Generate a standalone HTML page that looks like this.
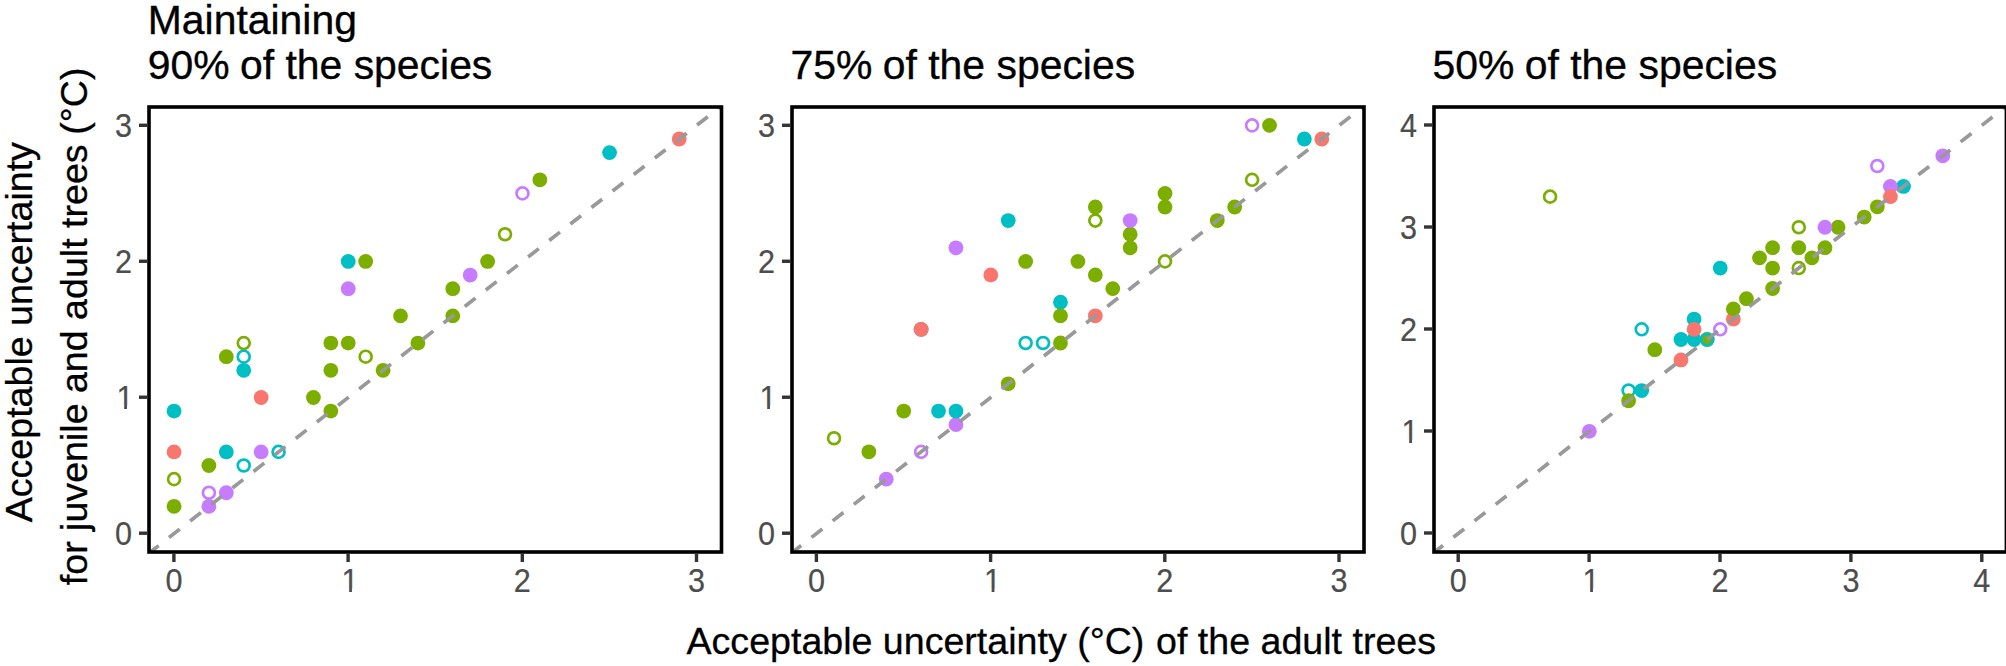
<!DOCTYPE html>
<html lang="en">
<head>
<meta charset="utf-8">
<title>Acceptable uncertainty</title>
<style>
html,body{margin:0;padding:0;background:#fff;}
svg{display:block;}
text{font-family:"Liberation Sans",sans-serif;}
.tk{font-size:30.6px;fill:#4D4D4D;stroke:#4D4D4D;stroke-width:0.2px;}
.ax{font-size:37.6px;fill:#000;stroke:#000;stroke-width:0.3px;}
.tt{font-size:40.9px;fill:#000;stroke:#000;stroke-width:0.35px;}
</style>
</head>
<body>
<svg width="2006" height="666" viewBox="0 0 2006 666">
<rect x="0" y="0" width="2006" height="666" fill="#ffffff"/>
<g id="panel1">
<clipPath id="clip1"><rect x="149.00" y="107.00" width="572.50" height="445.00"/></clipPath>
<g clip-path="url(#clip1)">
<circle cx="174.05" cy="506.34" r="7.4" fill="#7CAE00"/>
<circle cx="174.05" cy="479.13" r="5.95" fill="none" stroke="#7CAE00" stroke-width="2.7"/>
<circle cx="174.05" cy="451.92" r="7.4" fill="#F8766D"/>
<circle cx="174.05" cy="411.10" r="7.4" fill="#00BFC4"/>
<circle cx="208.89" cy="506.34" r="7.4" fill="#C77CFF"/>
<circle cx="208.89" cy="492.73" r="5.95" fill="none" stroke="#C77CFF" stroke-width="2.7"/>
<circle cx="226.31" cy="492.73" r="7.4" fill="#C77CFF"/>
<circle cx="208.89" cy="465.52" r="7.4" fill="#7CAE00"/>
<circle cx="226.31" cy="451.92" r="7.4" fill="#00BFC4"/>
<circle cx="243.73" cy="465.52" r="5.95" fill="none" stroke="#00BFC4" stroke-width="2.7"/>
<circle cx="261.15" cy="451.92" r="7.4" fill="#C77CFF"/>
<circle cx="278.57" cy="451.92" r="5.95" fill="none" stroke="#00BFC4" stroke-width="2.7"/>
<circle cx="261.15" cy="397.50" r="7.4" fill="#F8766D"/>
<circle cx="243.73" cy="370.29" r="7.4" fill="#00BFC4"/>
<circle cx="243.73" cy="343.08" r="5.95" fill="none" stroke="#7CAE00" stroke-width="2.7"/>
<circle cx="243.73" cy="356.68" r="5.95" fill="none" stroke="#00BFC4" stroke-width="2.7"/>
<circle cx="226.31" cy="356.68" r="7.4" fill="#7CAE00"/>
<circle cx="313.41" cy="397.50" r="7.4" fill="#7CAE00"/>
<circle cx="330.83" cy="411.10" r="7.4" fill="#7CAE00"/>
<circle cx="330.83" cy="370.29" r="7.4" fill="#7CAE00"/>
<circle cx="330.83" cy="343.08" r="7.4" fill="#7CAE00"/>
<circle cx="348.25" cy="343.08" r="7.4" fill="#7CAE00"/>
<circle cx="365.67" cy="356.68" r="5.95" fill="none" stroke="#7CAE00" stroke-width="2.7"/>
<circle cx="383.09" cy="370.29" r="7.4" fill="#7CAE00"/>
<circle cx="417.93" cy="343.08" r="7.4" fill="#7CAE00"/>
<circle cx="400.51" cy="315.87" r="7.4" fill="#7CAE00"/>
<circle cx="452.77" cy="315.87" r="7.4" fill="#7CAE00"/>
<circle cx="452.77" cy="288.66" r="7.4" fill="#7CAE00"/>
<circle cx="470.19" cy="275.05" r="7.4" fill="#C77CFF"/>
<circle cx="487.61" cy="261.45" r="7.4" fill="#7CAE00"/>
<circle cx="505.03" cy="234.24" r="5.95" fill="none" stroke="#7CAE00" stroke-width="2.7"/>
<circle cx="522.45" cy="193.42" r="5.95" fill="none" stroke="#C77CFF" stroke-width="2.7"/>
<circle cx="539.87" cy="179.82" r="7.4" fill="#7CAE00"/>
<circle cx="609.55" cy="152.61" r="7.4" fill="#00BFC4"/>
<circle cx="679.23" cy="139.00" r="7.4" fill="#F8766D"/>
<circle cx="348.25" cy="261.45" r="7.4" fill="#00BFC4"/>
<circle cx="365.67" cy="261.45" r="7.4" fill="#7CAE00"/>
<circle cx="348.25" cy="288.66" r="7.4" fill="#C77CFF"/>
<line x1="147.92" y1="553.96" x2="722.78" y2="104.99" stroke="#999999" stroke-width="3.7" stroke-dasharray="13.6 13.2" stroke-dashoffset="0"/>
</g>
<rect x="149.00" y="107.00" width="572.50" height="445.00" fill="none" stroke="#000" stroke-width="3.6"/>
<line x1="139.00" y1="533.20" x2="147.20" y2="533.20" stroke="#333333" stroke-width="3.4"/>
<line x1="173.90" y1="553.80" x2="173.90" y2="562.00" stroke="#333333" stroke-width="3.4"/>
<line x1="139.00" y1="397.23" x2="147.20" y2="397.23" stroke="#333333" stroke-width="3.4"/>
<line x1="348.10" y1="553.80" x2="348.10" y2="562.00" stroke="#333333" stroke-width="3.4"/>
<line x1="139.00" y1="261.26" x2="147.20" y2="261.26" stroke="#333333" stroke-width="3.4"/>
<line x1="522.30" y1="553.80" x2="522.30" y2="562.00" stroke="#333333" stroke-width="3.4"/>
<line x1="139.00" y1="125.29" x2="147.20" y2="125.29" stroke="#333333" stroke-width="3.4"/>
<line x1="696.50" y1="553.80" x2="696.50" y2="562.00" stroke="#333333" stroke-width="3.4"/>
<text class="tk" text-anchor="end" transform="translate(132.05,545.30) scale(1,1.07)">0</text>
<text class="tk" text-anchor="end" transform="translate(133.55,409.33) scale(1,1.07)">1</text>
<rect x="117.66" y="405.88" width="6.51" height="3.95" fill="#fff"/><rect x="126.98" y="405.88" width="6.27" height="3.95" fill="#fff"/>
<text class="tk" text-anchor="end" transform="translate(132.05,273.36) scale(1,1.07)">2</text>
<text class="tk" text-anchor="end" transform="translate(132.05,137.39) scale(1,1.07)">3</text>
<text class="tk" text-anchor="middle" transform="translate(173.90,592.30) scale(1,1.07)">0</text>
<text class="tk" text-anchor="middle" transform="translate(350.00,592.30) scale(1,1.07)">1</text>
<rect x="342.62" y="588.85" width="6.51" height="3.95" fill="#fff"/><rect x="351.94" y="588.85" width="6.27" height="3.95" fill="#fff"/>
<text class="tk" text-anchor="middle" transform="translate(522.30,592.30) scale(1,1.07)">2</text>
<text class="tk" text-anchor="middle" transform="translate(696.50,592.30) scale(1,1.07)">3</text>
</g>
<g id="panel2">
<clipPath id="clip2"><rect x="792.00" y="107.00" width="572.00" height="445.00"/></clipPath>
<g clip-path="url(#clip2)">
<circle cx="834.02" cy="438.24" r="5.95" fill="none" stroke="#7CAE00" stroke-width="2.7"/>
<circle cx="868.86" cy="451.84" r="7.4" fill="#7CAE00"/>
<circle cx="886.28" cy="479.04" r="7.4" fill="#C77CFF"/>
<circle cx="921.12" cy="451.84" r="5.95" fill="none" stroke="#C77CFF" stroke-width="2.7"/>
<circle cx="903.70" cy="411.03" r="7.4" fill="#7CAE00"/>
<circle cx="938.54" cy="411.03" r="7.4" fill="#00BFC4"/>
<circle cx="955.96" cy="424.63" r="7.4" fill="#C77CFF"/>
<circle cx="955.96" cy="411.03" r="7.4" fill="#00BFC4"/>
<circle cx="921.12" cy="329.42" r="7.4" fill="#00BFC4"/>
<circle cx="921.12" cy="329.42" r="7.4" fill="#F8766D"/>
<circle cx="1008.22" cy="383.83" r="7.4" fill="#7CAE00"/>
<circle cx="1025.64" cy="343.02" r="5.95" fill="none" stroke="#00BFC4" stroke-width="2.7"/>
<circle cx="1043.06" cy="343.02" r="5.95" fill="none" stroke="#00BFC4" stroke-width="2.7"/>
<circle cx="1060.48" cy="343.02" r="7.4" fill="#7CAE00"/>
<circle cx="1060.48" cy="302.22" r="7.4" fill="#00BFC4"/>
<circle cx="1060.48" cy="315.82" r="7.4" fill="#7CAE00"/>
<circle cx="990.80" cy="275.01" r="7.4" fill="#F8766D"/>
<circle cx="1025.64" cy="261.41" r="7.4" fill="#7CAE00"/>
<circle cx="1077.90" cy="261.41" r="7.4" fill="#7CAE00"/>
<circle cx="955.96" cy="247.81" r="7.4" fill="#C77CFF"/>
<circle cx="1095.32" cy="275.01" r="7.4" fill="#7CAE00"/>
<circle cx="1095.32" cy="315.82" r="7.4" fill="#F8766D"/>
<circle cx="1008.22" cy="220.60" r="7.4" fill="#00BFC4"/>
<circle cx="1112.74" cy="288.61" r="7.4" fill="#7CAE00"/>
<circle cx="1095.32" cy="207.00" r="7.4" fill="#7CAE00"/>
<circle cx="1095.32" cy="220.60" r="5.95" fill="none" stroke="#7CAE00" stroke-width="2.7"/>
<circle cx="1130.16" cy="234.21" r="7.4" fill="#7CAE00"/>
<circle cx="1130.16" cy="247.81" r="7.4" fill="#7CAE00"/>
<circle cx="1130.16" cy="220.60" r="7.4" fill="#C77CFF"/>
<circle cx="1165.00" cy="193.40" r="7.4" fill="#7CAE00"/>
<circle cx="1165.00" cy="207.00" r="7.4" fill="#7CAE00"/>
<circle cx="1165.00" cy="261.41" r="5.95" fill="none" stroke="#7CAE00" stroke-width="2.7"/>
<circle cx="1217.26" cy="220.60" r="7.4" fill="#7CAE00"/>
<circle cx="1234.68" cy="207.00" r="7.4" fill="#7CAE00"/>
<circle cx="1252.10" cy="179.80" r="5.95" fill="none" stroke="#7CAE00" stroke-width="2.7"/>
<circle cx="1252.10" cy="125.39" r="5.95" fill="none" stroke="#C77CFF" stroke-width="2.7"/>
<circle cx="1269.52" cy="125.39" r="7.4" fill="#7CAE00"/>
<circle cx="1304.36" cy="138.99" r="7.4" fill="#00BFC4"/>
<circle cx="1321.78" cy="138.99" r="7.4" fill="#F8766D"/>
<line x1="790.47" y1="553.85" x2="1365.33" y2="104.99" stroke="#999999" stroke-width="3.7" stroke-dasharray="13.6 13.2" stroke-dashoffset="0"/>
</g>
<rect x="792.00" y="107.00" width="572.00" height="445.00" fill="none" stroke="#000" stroke-width="3.6"/>
<line x1="782.00" y1="533.20" x2="790.20" y2="533.20" stroke="#333333" stroke-width="3.4"/>
<line x1="816.40" y1="553.80" x2="816.40" y2="562.00" stroke="#333333" stroke-width="3.4"/>
<line x1="782.00" y1="397.23" x2="790.20" y2="397.23" stroke="#333333" stroke-width="3.4"/>
<line x1="990.60" y1="553.80" x2="990.60" y2="562.00" stroke="#333333" stroke-width="3.4"/>
<line x1="782.00" y1="261.26" x2="790.20" y2="261.26" stroke="#333333" stroke-width="3.4"/>
<line x1="1164.80" y1="553.80" x2="1164.80" y2="562.00" stroke="#333333" stroke-width="3.4"/>
<line x1="782.00" y1="125.29" x2="790.20" y2="125.29" stroke="#333333" stroke-width="3.4"/>
<line x1="1339.00" y1="553.80" x2="1339.00" y2="562.00" stroke="#333333" stroke-width="3.4"/>
<text class="tk" text-anchor="end" transform="translate(775.05,545.30) scale(1,1.07)">0</text>
<text class="tk" text-anchor="end" transform="translate(776.55,409.33) scale(1,1.07)">1</text>
<rect x="760.66" y="405.88" width="6.51" height="3.95" fill="#fff"/><rect x="769.98" y="405.88" width="6.27" height="3.95" fill="#fff"/>
<text class="tk" text-anchor="end" transform="translate(775.05,273.36) scale(1,1.07)">2</text>
<text class="tk" text-anchor="end" transform="translate(775.05,137.39) scale(1,1.07)">3</text>
<text class="tk" text-anchor="middle" transform="translate(816.40,592.30) scale(1,1.07)">0</text>
<text class="tk" text-anchor="middle" transform="translate(992.50,592.30) scale(1,1.07)">1</text>
<rect x="985.12" y="588.85" width="6.51" height="3.95" fill="#fff"/><rect x="994.44" y="588.85" width="6.27" height="3.95" fill="#fff"/>
<text class="tk" text-anchor="middle" transform="translate(1164.80,592.30) scale(1,1.07)">2</text>
<text class="tk" text-anchor="middle" transform="translate(1339.00,592.30) scale(1,1.07)">3</text>
</g>
<g id="panel3">
<clipPath id="clip3"><rect x="1434.00" y="107.00" width="572.40" height="445.00"/></clipPath>
<g clip-path="url(#clip3)">
<circle cx="1550.08" cy="196.63" r="5.95" fill="none" stroke="#7CAE00" stroke-width="2.7"/>
<circle cx="1589.35" cy="431.35" r="7.4" fill="#C77CFF"/>
<circle cx="1628.62" cy="390.53" r="5.95" fill="none" stroke="#00BFC4" stroke-width="2.7"/>
<circle cx="1641.71" cy="390.53" r="7.4" fill="#00BFC4"/>
<circle cx="1628.62" cy="400.74" r="7.4" fill="#7CAE00"/>
<circle cx="1641.71" cy="329.30" r="5.95" fill="none" stroke="#00BFC4" stroke-width="2.7"/>
<circle cx="1654.80" cy="349.71" r="7.4" fill="#7CAE00"/>
<circle cx="1680.98" cy="359.91" r="7.4" fill="#F8766D"/>
<circle cx="1680.98" cy="339.50" r="7.4" fill="#00BFC4"/>
<circle cx="1694.07" cy="339.50" r="7.4" fill="#00BFC4"/>
<circle cx="1694.07" cy="319.09" r="7.4" fill="#00BFC4"/>
<circle cx="1694.07" cy="329.30" r="7.4" fill="#F8766D"/>
<circle cx="1707.16" cy="339.50" r="7.4" fill="#7CAE00"/>
<circle cx="1707.16" cy="339.50" r="5.95" fill="none" stroke="#00BFC4" stroke-width="2.7"/>
<circle cx="1720.25" cy="329.30" r="5.95" fill="none" stroke="#C77CFF" stroke-width="2.7"/>
<circle cx="1720.25" cy="268.07" r="7.4" fill="#00BFC4"/>
<circle cx="1733.34" cy="319.09" r="7.4" fill="#F8766D"/>
<circle cx="1733.34" cy="308.89" r="7.4" fill="#7CAE00"/>
<circle cx="1746.43" cy="298.69" r="7.4" fill="#7CAE00"/>
<circle cx="1772.61" cy="288.48" r="7.4" fill="#7CAE00"/>
<circle cx="1759.52" cy="257.86" r="7.4" fill="#7CAE00"/>
<circle cx="1772.61" cy="268.07" r="7.4" fill="#7CAE00"/>
<circle cx="1772.61" cy="247.66" r="7.4" fill="#7CAE00"/>
<circle cx="1798.79" cy="268.07" r="5.95" fill="none" stroke="#7CAE00" stroke-width="2.7"/>
<circle cx="1798.79" cy="247.66" r="7.4" fill="#7CAE00"/>
<circle cx="1798.79" cy="227.25" r="5.95" fill="none" stroke="#7CAE00" stroke-width="2.7"/>
<circle cx="1811.88" cy="257.86" r="7.4" fill="#7CAE00"/>
<circle cx="1824.97" cy="247.66" r="7.4" fill="#7CAE00"/>
<circle cx="1838.06" cy="227.25" r="7.4" fill="#7CAE00"/>
<circle cx="1824.97" cy="227.25" r="7.4" fill="#C77CFF"/>
<circle cx="1864.24" cy="217.04" r="7.4" fill="#7CAE00"/>
<circle cx="1877.33" cy="206.84" r="7.4" fill="#7CAE00"/>
<circle cx="1877.33" cy="166.02" r="5.95" fill="none" stroke="#C77CFF" stroke-width="2.7"/>
<circle cx="1903.51" cy="186.43" r="7.4" fill="#00BFC4"/>
<circle cx="1890.42" cy="186.43" r="7.4" fill="#C77CFF"/>
<circle cx="1890.42" cy="196.63" r="7.4" fill="#F8766D"/>
<circle cx="1942.78" cy="155.81" r="7.4" fill="#C77CFF"/>
<line x1="1432.27" y1="553.81" x2="2008.23" y2="104.79" stroke="#999999" stroke-width="3.7" stroke-dasharray="13.6 13.2" stroke-dashoffset="0"/>
</g>
<rect x="1434.00" y="107.00" width="572.40" height="445.00" fill="none" stroke="#000" stroke-width="3.6"/>
<line x1="1424.00" y1="533.00" x2="1432.20" y2="533.00" stroke="#333333" stroke-width="3.4"/>
<line x1="1458.20" y1="553.80" x2="1458.20" y2="562.00" stroke="#333333" stroke-width="3.4"/>
<line x1="1424.00" y1="431.00" x2="1432.20" y2="431.00" stroke="#333333" stroke-width="3.4"/>
<line x1="1589.10" y1="553.80" x2="1589.10" y2="562.00" stroke="#333333" stroke-width="3.4"/>
<line x1="1424.00" y1="329.00" x2="1432.20" y2="329.00" stroke="#333333" stroke-width="3.4"/>
<line x1="1720.00" y1="553.80" x2="1720.00" y2="562.00" stroke="#333333" stroke-width="3.4"/>
<line x1="1424.00" y1="227.00" x2="1432.20" y2="227.00" stroke="#333333" stroke-width="3.4"/>
<line x1="1850.90" y1="553.80" x2="1850.90" y2="562.00" stroke="#333333" stroke-width="3.4"/>
<line x1="1424.00" y1="125.00" x2="1432.20" y2="125.00" stroke="#333333" stroke-width="3.4"/>
<line x1="1981.80" y1="553.80" x2="1981.80" y2="562.00" stroke="#333333" stroke-width="3.4"/>
<text class="tk" text-anchor="end" transform="translate(1417.05,545.10) scale(1,1.07)">0</text>
<text class="tk" text-anchor="end" transform="translate(1418.55,443.10) scale(1,1.07)">1</text>
<rect x="1402.66" y="439.65" width="6.51" height="3.95" fill="#fff"/><rect x="1411.98" y="439.65" width="6.27" height="3.95" fill="#fff"/>
<text class="tk" text-anchor="end" transform="translate(1417.05,341.10) scale(1,1.07)">2</text>
<text class="tk" text-anchor="end" transform="translate(1417.05,239.10) scale(1,1.07)">3</text>
<text class="tk" text-anchor="end" transform="translate(1417.05,137.10) scale(1,1.07)">4</text>
<text class="tk" text-anchor="middle" transform="translate(1458.20,592.30) scale(1,1.07)">0</text>
<text class="tk" text-anchor="middle" transform="translate(1591.00,592.30) scale(1,1.07)">1</text>
<rect x="1583.62" y="588.85" width="6.51" height="3.95" fill="#fff"/><rect x="1592.94" y="588.85" width="6.27" height="3.95" fill="#fff"/>
<text class="tk" text-anchor="middle" transform="translate(1720.00,592.30) scale(1,1.07)">2</text>
<text class="tk" text-anchor="middle" transform="translate(1850.90,592.30) scale(1,1.07)">3</text>
<text class="tk" text-anchor="middle" transform="translate(1981.80,592.30) scale(1,1.07)">4</text>
</g>
<text class="tt" x="147.8" y="33.8">Maintaining</text>
<text class="tt" x="147.8" y="79.0">90%<tspan dx="-1.0"> of the species</tspan></text>
<text class="tt" x="790.6" y="79.0">75%<tspan dx="-1.0"> of the species</tspan></text>
<text class="tt" x="1432.6" y="79.0">50%<tspan dx="-1.0"> of the species</tspan></text>
<text class="ax" x="686.5" y="653.5">Acceptable uncertainty (°C)<tspan dx="1.3"> of the adult trees</tspan></text>
<text class="ax" text-anchor="middle" transform="translate(32.2,332.2) rotate(-90)">Acceptable uncertainty</text>
<text class="ax" text-anchor="middle" transform="translate(86.6,326.4) rotate(-90)">for juvenile and adult trees<tspan dx="-0.8"> (°C)</tspan></text>
</svg>
</body>
</html>
